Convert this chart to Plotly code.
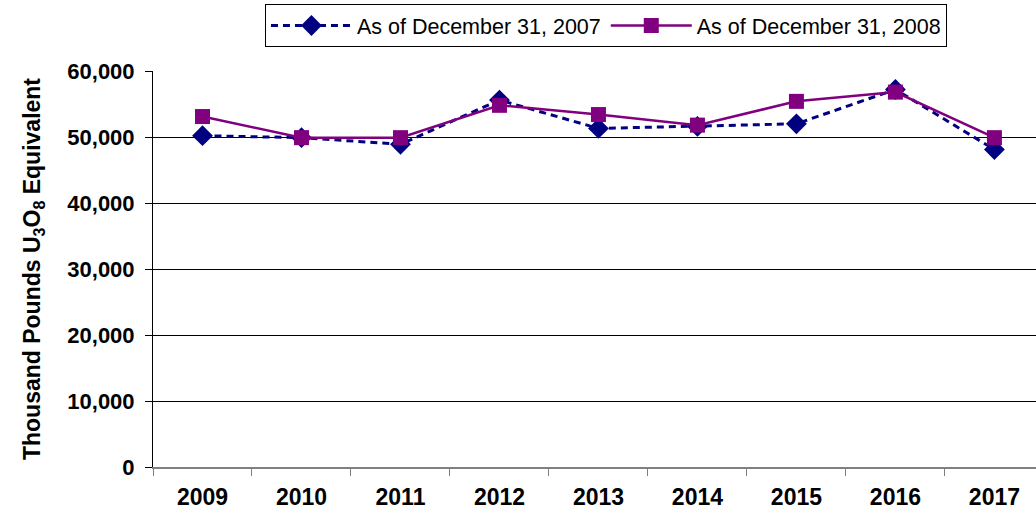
import plotly.graph_objects as go

years = ["2009", "2010", "2011", "2012", "2013", "2014", "2015", "2016", "2017"]
as_of_2007 = [50200, 49900, 48900, 55600, 51300, 51600, 52000, 57200, 48100]
as_of_2008 = [53100, 49900, 49900, 54800, 53400, 51800, 55400, 56800, 49900]
y_ticks = [0, 10000, 20000, 30000, 40000, 50000, 60000]

font_family = "Liberation Sans, Arial, sans-serif"

fig = go.Figure()
fig.add_trace(go.Scatter(
    x=years, y=as_of_2007, name="As of December 31, 2007",
    mode="lines+markers",
    line=dict(color="#000080", width=3, dash="7px,5px"),
    marker=dict(symbol="diamond", size=16, color="#000080"),
))
fig.add_trace(go.Scatter(
    x=years, y=as_of_2008, name="As of December 31, 2008",
    mode="lines+markers",
    line=dict(color="#800080", width=2.5),
    marker=dict(symbol="square", size=15, color="#800080"),
))

fig.update_layout(
    width=1036, height=516,
    margin=dict(l=153, r=0, t=71, b=49),
    plot_bgcolor="white", paper_bgcolor="white",
    font=dict(family=font_family, color="black"),
    showlegend=True,
    hovermode=False,
    legend=dict(
        orientation="h", x=0.1268, y=1 - 4 / 516, xanchor="left", yanchor="top",
        yref="container",
        bordercolor="black", borderwidth=1,
        font=dict(size=21.5, family=font_family),
        itemwidth=81, bgcolor="white",
        tracegroupgap=0,
    ),
    xaxis=dict(
        type="category", range=[-0.5, 8.42],
        tickson="boundaries", ticks="outside", ticklen=7, tickcolor="#808080",
        tickfont=dict(size=23, family=font_family, weight="bold"),
        showgrid=False, showline=True, linecolor="#808080", linewidth=2,
        zeroline=False, ticklabelstandoff=8,
    ),
    yaxis=dict(
        range=[0, 60000], tickvals=y_ticks, tickformat=",d",
        ticks="outside", ticklen=7, tickcolor="black",
        tickfont=dict(size=22, family=font_family, weight="bold"),
        showgrid=True, gridcolor="black", gridwidth=1,
        showline=True, linecolor="black", linewidth=1,
        zeroline=False, ticklabelstandoff=6,
        title=dict(text="Thousand Pounds U<sub>3</sub>O<sub>8</sub> Equivalent",
                   font=dict(size=23, family=font_family, weight="bold"), standoff=20),
    ),
)

fig.write_html("out.html", config={"displayModeBar": False, "staticPlot": True},
               post_script="document.body.style.margin='0';")
